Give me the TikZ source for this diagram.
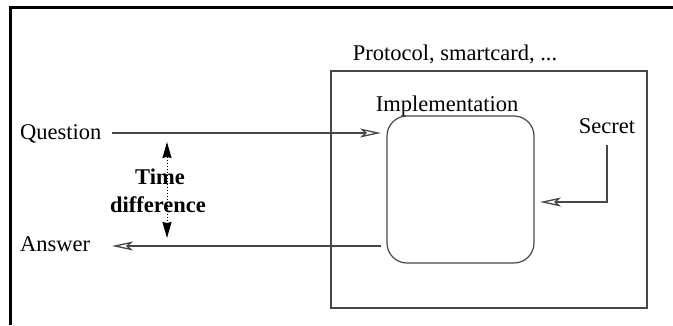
\documentclass[tikz,border=0pt]{standalone}
\usepackage{fontspec}
\setmainfont{Liberation Serif}
\usetikzlibrary{arrows.meta}
\begin{document}
\begin{tikzpicture}[x=1pt,y=-1pt,
  lbl/.style={inner sep=0pt,anchor=base,font=\fontsize{22.5}{27}\selectfont},
  boldlbl/.style={lbl,font=\fontsize{22.5}{27}\selectfont\bfseries},
  wire/.style={draw=black!72,line width=1.2pt},
  openhead/.style={-{Stealth[open,length=21pt,width=9pt,inset=5pt,line width=1.3pt]}},
  tdiffhead/.tip={Stealth[length=16pt,width=9pt,inset=1pt]},
  framing/.style={draw=black,line width=2.6pt}
]
\useasboundingbox (0,0) rectangle (673,325);
% page frame (top and left edges)
\draw[framing] (10.5,325) -- (10.5,7.5) -- (673,7.5);

% protocol box with implementation block
\node[lbl] (proto) at (455,60.5) {Protocol, smartcard, ...};
\node[wire,minimum width=316pt,minimum height=237pt,inner sep=0pt] (outer) at (489,189.5) {};
\node[lbl] (impl) at (447,111) {Implementation};
\node[wire,rounded corners=20pt,minimum width=147pt,minimum height=147pt,inner sep=0pt] (core) at (460.5,189.5) {};
\node[lbl] (secret) at (607,133) {Secret};

% question / answer
\node[lbl,anchor=base west] (question) at (20,139) {Question};
\node[lbl,anchor=base west] (answer) at (20,251.5) {Answer};
\coordinate (qin) at (381,133);
\coordinate (aout) at (381,246);
\coordinate (qstart) at (112,133);
\coordinate (aend) at (112,246);
\draw[wire,openhead] (qstart) -- (qin);
\draw[wire,openhead] (aout) -- (aend);

% secret feeding the implementation
\coordinate (sbend) at (607,202);
\coordinate (sin) at (540,202);
\draw[wire,openhead] (607,145) -- (sbend) -- (sin);

% time difference
\coordinate (ttop) at (167,142);
\coordinate (tbot) at (167,238);
\draw[black,line width=1pt,dotted,tdiffhead-tdiffhead] (ttop) -- (tbot);
\node[boldlbl] (tlab1) at (160,184) {Time};
\node[boldlbl] (tlab2) at (158,212.5) {difference};
\end{tikzpicture}
\end{document}
